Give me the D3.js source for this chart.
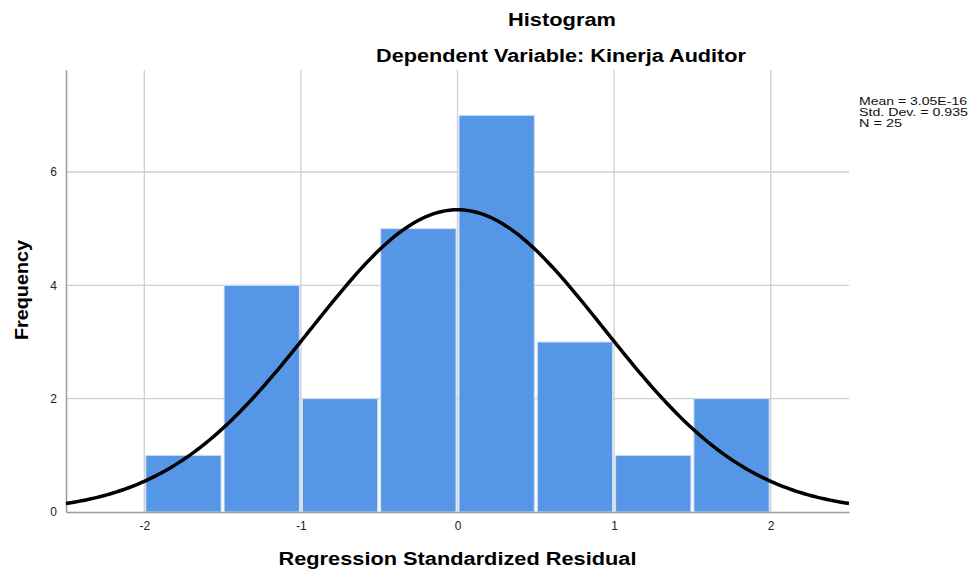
<!DOCTYPE html>
<html>
<head>
<meta charset="utf-8">
<script src="https://cdn.jsdelivr.net/npm/d3@7"></script>
<style>
  body { margin: 0; background: #fff; }
  text { font-family: "Liberation Sans", Arial, sans-serif; }
</style>
</head>
<body>
<div id="chart"></div>
<script>
// histogram bins (lower edge) and counts
var binStarts = [-2, -1.5, -1, -0.5, 0, 0.5, 1, 1.5];
var binWidth = 0.5;
var counts = [1, 4, 2, 5, 7, 3, 1, 2];

// summary statistics shown in the legend
var statMean = 3.05e-16;
var statSD = 0.935;
var statN = 25;
var statLabels = ["Mean = 3.05E-16", "Std. Dev. = 0.935", "N = 25"];

var xTicks = [-2, -1, 0, 1, 2];
var yTicks = [0, 2, 4, 6];

var svgWidth = 976;
var svgHeight = 569;

var margin = { top: 70, right: 127, bottom: 57, left: 66 };
var width = svgWidth - margin.left - margin.right;
var height = svgHeight - margin.top - margin.bottom;

var svg = d3.select("#chart")
  .append("svg")
  .attr("width", svgWidth)
  .attr("height", svgHeight);

var chartGroup = svg.append("g")
  .attr("transform", `translate(${margin.left}, ${margin.top})`);

var xScale = d3.scaleLinear().domain([-2.5, 2.5]).range([0, width]);
var yScale = d3.scaleLinear().domain([0, 7.8]).range([height, 0]);

// grid lines
chartGroup.append("g").selectAll("line")
  .data(xTicks)
  .enter()
  .append("line")
  .attr("x1", d => xScale(d)).attr("x2", d => xScale(d))
  .attr("y1", 0).attr("y2", height)
  .attr("stroke", "#cfcfcf").attr("stroke-width", 1.3);

chartGroup.append("g").selectAll("line")
  .data(yTicks.filter(d => d > 0))
  .enter()
  .append("line")
  .attr("x1", 0).attr("x2", width)
  .attr("y1", d => yScale(d)).attr("y2", d => yScale(d))
  .attr("stroke", "#cfcfcf").attr("stroke-width", 1.3);

// bars
chartGroup.append("g").selectAll("rect")
  .data(counts)
  .enter()
  .append("rect")
  .attr("x", (d, i) => xScale(binStarts[i]) + 1.5)
  .attr("width", (d, i) => xScale(binStarts[i] + binWidth) - xScale(binStarts[i]) - 3)
  .attr("y", d => yScale(d))
  .attr("height", d => yScale(0) - yScale(d))
  .attr("fill", "#5596e6")
  .attr("stroke", "#cfe0f7")
  .attr("stroke-width", 1);

// axes
var fmt = d => String(d);
var bottomAxis = d3.axisBottom(xScale).tickValues(xTicks).tickFormat(fmt).tickSize(0).tickPadding(9);
var leftAxis = d3.axisLeft(yScale).tickValues(yTicks).tickFormat(fmt).tickSize(0).tickPadding(9);

var xAxis = chartGroup.append("g")
  .attr("transform", `translate(0, ${height})`)
  .call(bottomAxis);

var yAxis = chartGroup.append("g")
  .call(leftAxis);

[xAxis, yAxis].forEach(function(ax) {
  ax.select(".domain").attr("stroke", "#9a9a9a").attr("stroke-width", 1.5);
  ax.selectAll("text")
    .attr("fill", "#222")
    .style("font-size", "12px")
    .style("font-family", "'Liberation Sans', Arial, sans-serif");
});

// normal curve from the legend's mean, sd and N
var curvePoints = d3.range(-2.5, 2.5001, 0.02).map(function(x) {
  var z = (x - statMean) / statSD;
  return [x, statN * binWidth * Math.exp(-0.5 * z * z) / (statSD * Math.sqrt(2 * Math.PI))];
});

chartGroup.append("path")
  .datum(curvePoints)
  .attr("fill", "none")
  .attr("stroke", "#000")
  .attr("stroke-width", 3.5)
  .attr("d", d3.line().x(d => xScale(d[0])).y(d => yScale(d[1])));

// titles (text is drawn a bit wide in the original, so stretch to fit)
function boldText(x, y, str, len) {
  return svg.append("text")
    .attr("x", x).attr("y", y)
    .attr("text-anchor", "middle")
    .attr("textLength", len)
    .attr("lengthAdjust", "spacingAndGlyphs")
    .style("font-size", "18px").style("font-weight", "bold")
    .text(str);
}

boldText(562, 26, "Histogram", 108);
boldText(561, 62, "Dependent Variable: Kinerja Auditor", 370);
boldText(margin.left + width / 2, 565, "Regression Standardized Residual", 358);
boldText(-290, 28, "Frequency", 100).attr("transform", "rotate(-90)");

// legend stats
svg.append("g").selectAll("text")
  .data(statLabels)
  .enter()
  .append("text")
  .attr("x", 859)
  .attr("y", (d, i) => 105 + i * 11)
  .style("font-size", "10.5px")
  .attr("fill", "#111")
  .attr("textLength", (d, i) => [108, 109, 43][i])
  .attr("lengthAdjust", "spacingAndGlyphs")
  .text(d => d);
</script>
</body>
</html>
